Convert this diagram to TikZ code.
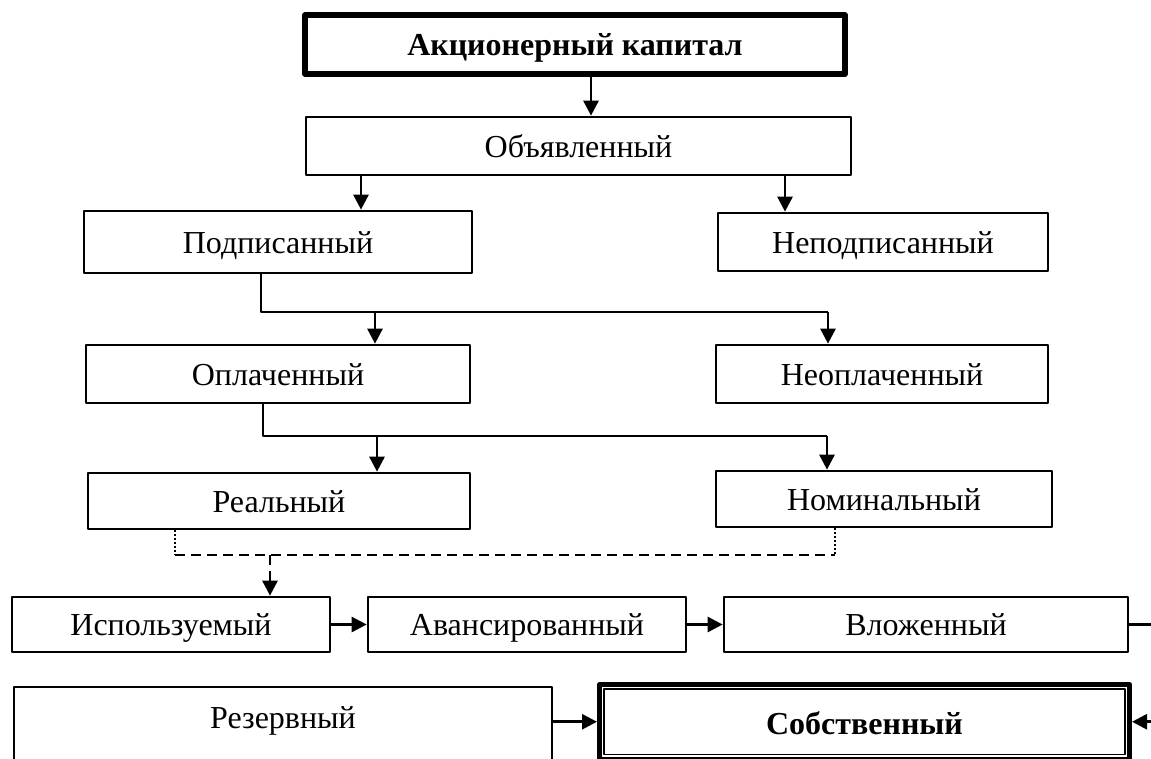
\documentclass[tikz,border=0pt]{standalone}
\usepackage{fontspec}
\setmainfont{Liberation Serif}
\usetikzlibrary{arrows.meta}
\begin{document}
\begin{tikzpicture}[x=1pt,y=-1pt,line join=round,>={Triangle[length=15pt,width=15pt]},line width=2.7pt,
  font=\fontsize{32}{38}\selectfont,
  box/.style={draw,rectangle,inner sep=0pt,text height=26pt,text depth=4pt},
  mainbox/.style={box,line width=5.5pt,font=\fontsize{32}{38}\selectfont\bfseries}]
\useasboundingbox (0,0) rectangle (1151,758);
\clip (0,0) rectangle (1151,758);
\node[mainbox,minimum width=540pt,minimum height=59pt] (akc) at (575,44.5) {Акционерный капитал};
\node[box,minimum width=545pt,minimum height=58pt] (obj) at (578.5,146) {Объявленный};
\node[box,minimum width=388pt,minimum height=62pt] (podp) at (278,242) {Подписанный};
\node[box,minimum width=330pt,minimum height=58pt] (nepodp) at (883,242) {Неподписанный};
\node[box,minimum width=384pt,minimum height=58pt] (opl) at (278,374) {Оплаченный};
\node[box,minimum width=332pt,minimum height=58pt] (neopl) at (882,374) {Неоплаченный};
\node[box,minimum width=382pt,minimum height=56pt] (real) at (279,501) {Реальный};
\node[box,minimum width=336pt,minimum height=56pt] (nom) at (884,499) {Номинальный};
\node[box,minimum width=318pt,minimum height=55pt] (isp) at (171,624.5) {Используемый};
\node[box,minimum width=318pt,minimum height=55pt] (avans) at (527,624.5) {Авансированный};
\node[box,minimum width=404pt,minimum height=55pt] (vlozh) at (926,624.5) {Вложенный};
\node[box,minimum width=538pt,minimum height=113pt,text depth=56pt] (rez) at (283,743.5) {Резервный};
\node[mainbox,line width=5pt,minimum width=530pt,minimum height=74.5pt,text height=26.5pt,text depth=2pt] (sob) at (864.5,721.75) {Собственный};
\draw[line width=1.5pt] ([shift={(7,7)}]sob.north west) rectangle ([shift={(-7,-7)}]sob.south east);
\coordinate (xa) at (591,0);
\coordinate (xb) at (361,0);
\coordinate (xc) at (785,0);
\coordinate (j1) at (261,312);
\coordinate (j2) at (828,312);
\coordinate (b1) at (375,312);
\coordinate (j3) at (263,436);
\coordinate (j4) at (827,436);
\coordinate (b2) at (377,436);
\coordinate (d1) at (175,555);
\coordinate (d2) at (835,555);
\coordinate (b3) at (270,555);
\coordinate (r1) at (1170,0);
\draw[->] (akc.south -| xa) -- (obj.north -| xa);
\draw[->] (obj.south -| xb) -- (podp.north -| xb);
\draw[->] (obj.south -| xc) -- (nepodp.north -| xc);
\draw (podp.south -| j1) -- (j1) -- (j2);
\draw[->] (j2) -- (neopl.north -| j2);
\draw[->] (b1) -- (opl.north -| b1);
\draw (opl.south -| j3) -- (j3) -- (j4);
\draw[->] (j4) -- (nom.north -| j4);
\draw[->] (b2) -- (real.north -| b2);
\draw[dash pattern=on 2pt off 2pt] (real.south -| d1) -- (d1);
\draw[dash pattern=on 2pt off 2pt] (nom.south -| d2) -- (d2);
\draw[dash pattern=on 10pt off 6pt] (d1) -- (d2);
\draw[->,dash pattern=on 10pt off 6pt] (b3) -- (isp.north -| b3);
\draw[->] (isp.east) -- (avans.west);
\draw[->] (avans.east) -- (vlozh.west);
\draw[->] (vlozh.east) -- (vlozh.east -| r1) |- (sob.east);
\draw[->] (sob.west -| rez.east) -- (sob.west);
\end{tikzpicture}
\end{document}
